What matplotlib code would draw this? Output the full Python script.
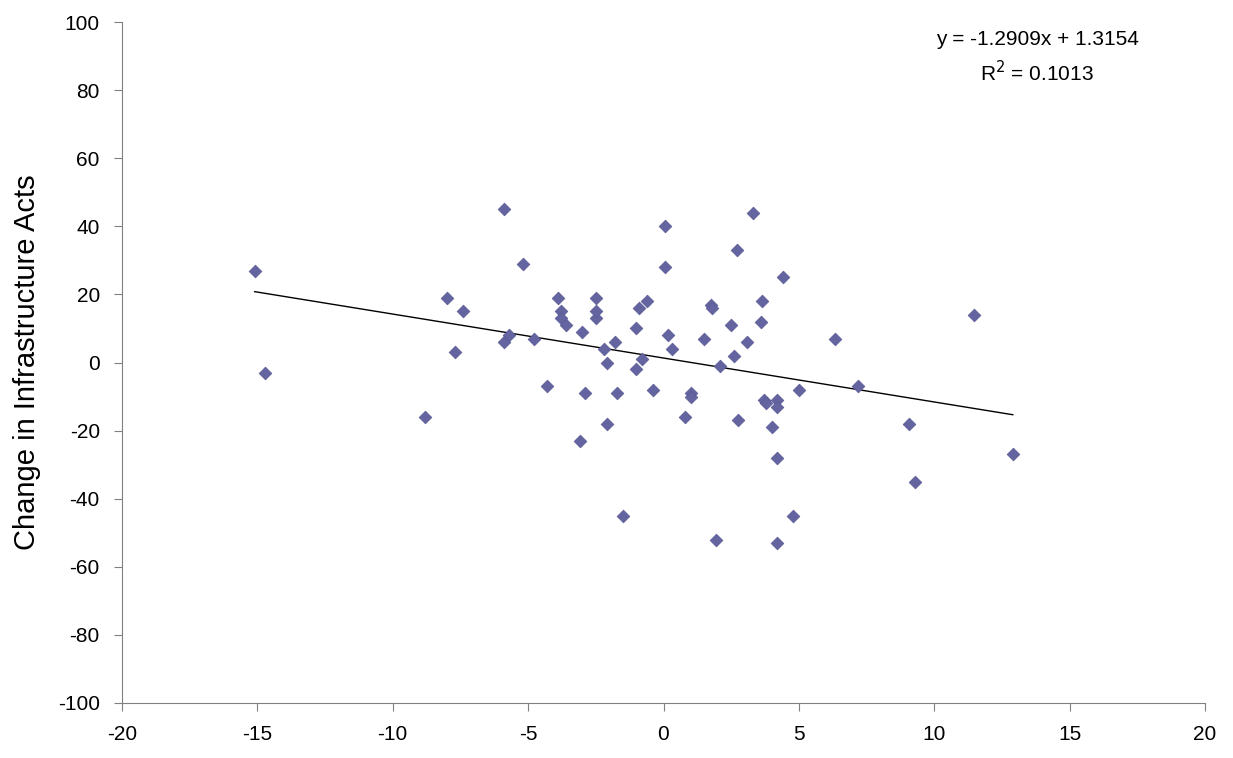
import numpy as np
import matplotlib.pyplot as plt

plt.rcParams['font.family'] = ['Liberation Sans', 'DejaVu Sans']
plt.rcParams['axes.unicode_minus'] = False

x_vals = [-15.1, -14.7, -8.8, -8.0, -7.7, -7.4, -5.9, -5.9, -5.7, -5.2, -4.8, -4.3,
          -3.9, -3.8, -3.8, -3.6, -3.1, -3.0, -2.9, -2.5, -2.5, -2.5, -2.2, -2.1,
          -2.1, -1.8, -1.7, -1.5, -1.0, -1.0, -0.9, -0.8, -0.6, -0.4, 0.05, 0.05,
          0.15, 0.3, 0.8, 1.0, 1.0, 1.5, 1.75, 1.8, 1.95, 2.1, 2.5, 2.6, 2.7, 2.75,
          3.1, 3.3, 3.6, 3.65, 3.7, 3.8, 4.0, 4.2, 4.2, 4.2, 4.2, 4.4, 4.8, 5.0,
          6.35, 7.2, 9.05, 9.3, 11.45, 12.9]
y_vals = [27, -3, -16, 19, 3, 15, 45, 6, 8, 29, 7, -7,
          19, 15, 13, 11, -23, 9, -9, 13, 19, 15, 4, 0,
          -18, 6, -9, -45, 10, -2, 16, 1, 18, -8, 40, 28,
          8, 4, -16, -9, -10, 7, 17, 16, -52, -1, 11, 2, 33, -17,
          6, 44, 12, 18, -11, -12, -19, -11, -13, -28, -53, 25, -45, -8,
          7, -7, -18, -35, 14, -27]

slope, intercept = -1.2909, 1.3154

fig = plt.figure(figsize=(12.33, 7.58), dpi=100)
ax = fig.add_axes([122/1233, 1 - 703/758, (1205-122)/1233, (703-22)/758])

ax.scatter(x_vals, y_vals, marker='D', s=42, color='#6464A0', edgecolors='#5A5A96',
           linewidths=0.5, zorder=3)
xl = np.array([min(x_vals), max(x_vals)])
ax.plot(xl, slope * xl + intercept, color='black', linewidth=1)

ax.set_xlim(-20, 20)
ax.set_ylim(-100, 100)
ax.set_xticks(range(-20, 21, 5))
ax.set_yticks(range(-100, 101, 20))
for s in ['top', 'right']:
    ax.spines[s].set_visible(False)
for s in ['left', 'bottom']:
    ax.spines[s].set_color('#808080')
ax.tick_params(direction='out', length=6, color='#808080', labelsize=15, pad=10)
ax.set_ylabel('Change in Infrastructure Acts', fontsize=21, labelpad=12)

ax.text(0.845, 0.975, 'y = -1.2909x + 1.3154', transform=ax.transAxes,
        ha='center', va='center', fontsize=15)
ax.text(0.845, 0.925, r'R$^2$ = 0.1013', transform=ax.transAxes,
        ha='center', va='center', fontsize=15)

fig.savefig('out.png')
